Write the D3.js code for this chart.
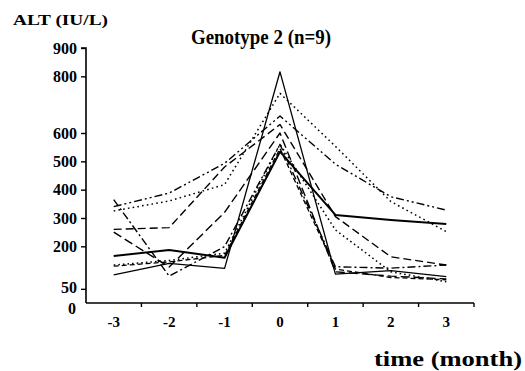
<!DOCTYPE html>
<html>
<head>
<meta charset="utf-8">
<script src="https://cdn.jsdelivr.net/npm/d3@7"></script>
<style>
  html, body { margin: 0; padding: 0; background: #fff; }
  svg { display: block; }
  text { font-family: "Liberation Serif", "Times New Roman", serif; font-weight: bold; fill: #000; }
</style>
</head>
<body>
<svg id="chart" width="525" height="371"></svg>
<script>
// ---- data ----
const categories = ["-3", "-2", "-1", "0", "1", "2", "3"];
const yTickValues = [0, 50, 200, 300, 400, 500, 600, 800, 900];
const patient1 = [99, 140, 122, 816, 102, 114, 93];    // solid
const patient2 = [166, 187, 160, 534, 311, 293, 279];  // solid, heavy
const patient3 = [325, 360, 418, 740, 553, 358, 252];  // dotted
const patient4 = [340, 388, 493, 660, 490, 375, 328];  // dash-dot-dot
const patient5 = [260, 266, 480, 630, 305, 163, 134];  // dashed
const patient6 = [365, 95, 199, 560, 128, 123, 134];   // dash-dot
const patient7 = [250, 127, 320, 600, 110, 95, 85];    // long dash
const patient8 = [134, 150, 176, 560, 258, 110, 75];   // dotted
const patient9 = [130, 145, 168, 545, 120, 90, 82];    // short dash

const series = [
  { values: patient7, dash: "9,4", width: 1.4 },
  { values: patient9, dash: "5,3", width: 1.3 },
  { values: patient8, dash: "1.6,3", width: 1.5 },
  { values: patient3, dash: "1.6,3.2", width: 1.5 },
  { values: patient4, dash: "8,3,2,3,2,3", width: 1.4 },
  { values: patient5, dash: "8,4", width: 1.4 },
  { values: patient6, dash: "8,3,2,3", width: 1.4 },
  { values: patient1, dash: null, width: 1.3 },
  { values: patient2, dash: null, width: 2.0 }
];

// ---- layout ----
const svg = d3.select("#chart");
const x = d3.scaleBand().domain(categories).range([86, 474]).padding(0);
const y = d3.scaleLinear().domain([0, 900]).range([303, 48]);

// lines
const line = d3.line()
  .x((d, i) => x(categories[i]) + x.bandwidth() / 2)
  .y(d => y(d));

svg.append("g").selectAll("path").data(series).join("path")
  .attr("d", s => line(s.values))
  .attr("fill", "none")
  .attr("stroke", "#000")
  .attr("stroke-width", s => s.width)
  .attr("stroke-dasharray", s => s.dash)
  .attr("stroke-linejoin", "round");

// y axis
const yAxis = svg.append("g")
  .attr("transform", "translate(86,0)")
  .call(d3.axisLeft(y).tickValues(yTickValues).tickSize(5).tickPadding(4).tickFormat(d3.format("d")));
yAxis.select(".domain").attr("stroke-width", 1.6).attr("d", "M-5," + y(900) + "H0V" + y(0));
yAxis.selectAll(".tick line").attr("stroke-width", 1.4);
yAxis.selectAll(".tick text").style("font-size", "16px");
yAxis.selectAll(".tick").filter(d => d === 0).select("line").remove();
yAxis.selectAll(".tick").filter(d => d === 0).select("text").attr("dy", "0.65em").attr("x", -10);
yAxis.selectAll(".tick").filter(d => d === 50).select("text").attr("dy", "0.25em");

// x axis
const xAxis = svg.append("g")
  .attr("transform", "translate(0," + y(0) + ")")
  .call(d3.axisBottom(x).tickSize(0).tickPadding(13));
xAxis.select(".domain").attr("stroke-width", 1.6).attr("d", "M86,0H474");
xAxis.selectAll(".tick text").style("font-size", "15px");
// tick marks at band boundaries
xAxis.append("g").selectAll("line").data(categories).join("line")
  .attr("x1", d => x(d) + x.bandwidth())
  .attr("x2", d => x(d) + x.bandwidth())
  .attr("y1", 0).attr("y2", 4)
  .attr("stroke", "#000").attr("stroke-width", 1.4);

// titles
svg.append("text")
  .attr("x", 13).attr("y", 25)
  .attr("textLength", 95).attr("lengthAdjust", "spacingAndGlyphs")
  .style("font-size", "15px")
  .text("ALT (IU/L)");

svg.append("text")
  .attr("x", 191).attr("y", 44)
  .attr("textLength", 140).attr("lengthAdjust", "spacingAndGlyphs")
  .style("font-size", "21px")
  .text("Genotype 2 (n=9)");

svg.append("text")
  .attr("x", 374).attr("y", 366)
  .attr("textLength", 148).attr("lengthAdjust", "spacingAndGlyphs")
  .style("font-size", "21px")
  .text("time (month)");
</script>
</body>
</html>
